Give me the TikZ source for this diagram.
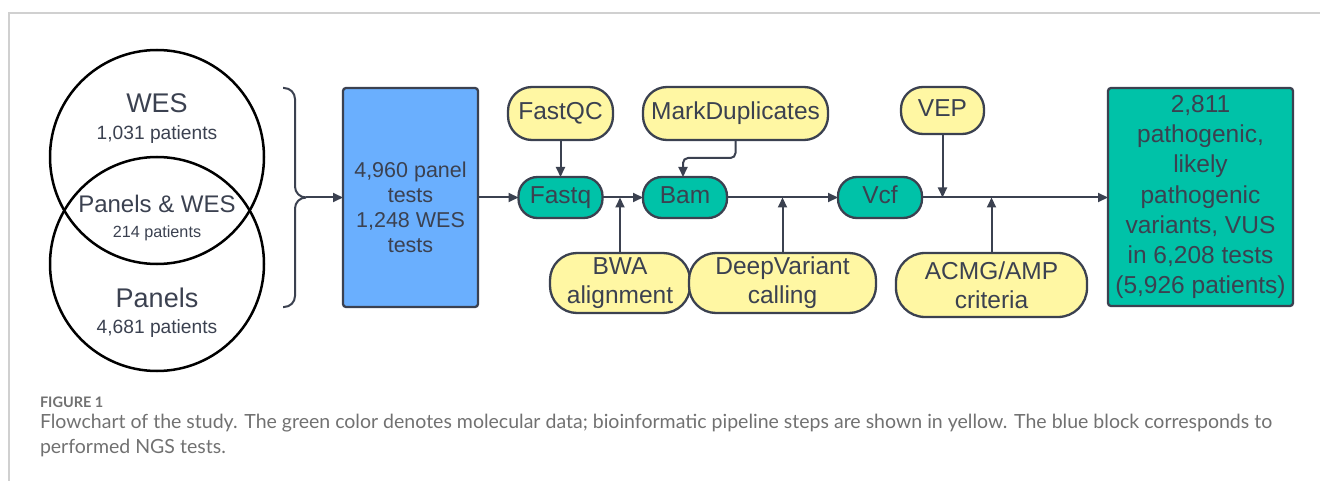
\documentclass[tikz,border=0pt]{standalone}
\usepackage{fontspec}
\setmainfont{Liberation Sans}
\newfontfamily\capfont{Lato}
\usepackage{graphicx}
\usetikzlibrary{arrows.meta}
\definecolor{ink}{HTML}{3B4150}
\definecolor{edgec}{HTML}{3B4150}
\definecolor{yelfill}{HTML}{FFF7A3}
\definecolor{tealfill}{HTML}{00C2A8}
\definecolor{bluefill}{HTML}{6AAFFE}
\definecolor{framegray}{HTML}{D0D0D0}
\definecolor{capgray}{HTML}{717171}
\newcommand{\fsz}[2]{\fontsize{#1}{#2}\selectfont}
\begin{document}
\begin{tikzpicture}[x=1pt,y=-1pt,
  every node/.style={text=ink, inner sep=0pt, outer sep=0pt},
  pill/.style={draw=edgec, line width=2.3pt, rounded corners=#1, align=center, font=\fsz{24.5}{29}},
  oneline/.style={text height=17.5pt, text depth=5pt},
  datapill/.style={pill=19pt, fill=tealfill, minimum width=84pt, minimum height=41pt, oneline},
  toolpill/.style={pill=#1, fill=yelfill},
  conn/.style={draw=edgec, line width=2pt},
  arr/.style={conn, -{Triangle[length=10pt,width=9pt]}},
  venn/.style={circle, draw=black, line width=2.5pt, minimum size=214pt},
  bigbox/.style={draw=edgec, line width=2.3pt, rounded corners=3pt}
]
\useasboundingbox (0,0) rectangle (1320,481);
\draw[framegray, line width=1.2pt] (1320,13) -- (9,13) -- (9,481);

% Venn diagram
\node[venn] (wes) at (157,157) {};
\node[venn] (pan) at (157,264) {};
\node[anchor=base, font=\fsz{27}{30}] (wesT) at (157,113) {WES};
\node[anchor=base, font=\fsz{19.2}{22}] (wesN) at (157,140) {1,031 patients};
\node[anchor=base, font=\fsz{24}{27}] (bothT) at (157,213) {Panels \& WES};
\node[anchor=base, font=\fsz{16.2}{19}] (bothN) at (157,237) {214 patients};
\node[anchor=base, font=\fsz{27}{30}] (panT) at (157,307) {Panels};
\node[anchor=base, font=\fsz{19.2}{22}] (panN) at (157,333) {4,681 patients};

% Brace
\coordinate (tip) at (306,197.5);
\draw[conn, rounded corners=11pt] (283,88) -- (295,88) -- (295,197.5) -- (tip);
\draw[conn, rounded corners=11pt] (283,307) -- (295,307) -- (295,197.5) -- (tip);

% NGS tests block
\node[bigbox, fill=bluefill, minimum width=135pt, minimum height=219pt] (ngs) at (410.5,197.5) {};
\node[font=\fsz{21.5}{25}, align=center] (ngsT) at (410.5,207) {4,960 panel\\tests\\1,248 WES\\tests};

% Pipeline
\node[datapill] (fastq) at (560.5,197.5) {Fastq};
\node[datapill] (bam) at (685,197.5) {Bam};
\node[datapill] (vcf) at (880,197.5) {Vcf};
\node[toolpill=24pt, minimum width=105pt, minimum height=53pt, oneline] (fastqc) at (560.5,113.5) {FastQC};
\node[toolpill=24pt, minimum width=185pt, minimum height=53pt, oneline] (md) at (735.5,113.5) {MarkDuplicates};
\node[toolpill=22pt, minimum width=83pt, minimum height=47pt, oneline] (vep) at (942.5,110.5) {VEP};
\node[toolpill=27pt, minimum width=140pt, minimum height=60pt] (bwa) at (620,283) {BWA\\alignment};
\node[toolpill=27pt, minimum width=187pt, minimum height=60pt] (dv) at (782.5,283) {DeepVariant\\calling};
\node[toolpill=29pt, minimum width=191pt, minimum height=64pt] (acmg) at (991.5,285) {ACMG/AMP\\criteria};
\node[bigbox, fill=tealfill, minimum width=185pt, minimum height=218pt, align=center, font=\fsz{24.5}{30.3}] (res) at (1200.5,197) {2,811\\pathogenic,\\likely\\pathogenic\\variants, VUS\\in 6,208 tests\\(5,926 patients)};

% Connectors
\draw[arr] (tip) -- (tip -| ngs.west);
\draw[arr] (ngs.east) -- (fastq.west);
\draw[arr] (fastqc.south) -- (fastq.north);
\draw[arr] (fastq.east) -- (bam.west);
\draw[arr] (bwa.north) -- (bwa.north |- fastq.east);
\draw[arr, rounded corners=5pt] (md.south) -- (md.south |- 0,158) -| ([xshift=-2pt]bam.north);
\draw[arr] (bam.east) -- (vcf.west);
\draw[arr] (dv.north) -- (dv.north |- bam.east);
\draw[arr] (vcf.east) -- (res.west |- vcf.east);
\draw[arr] (vep.south) -- (vep.south |- vcf.east);
\draw[arr] (acmg.north) -- (acmg.north |- vcf.east);

% Caption
\node[anchor=base west, text=capgray, font=\capfont\bfseries\fsz{14.5}{16}] (fig) at (40,407) {FIGURE 1};
\node[anchor=base west, text=capgray, font=\capfont\fsz{14}{18}] (cap) at (40,428.5) {\resizebox{1232pt}{!}{\begin{tabular}[t]{@{}l@{}}Flowchart of the study. The green color denotes molecular data; bioinformatic pipeline steps are shown in yellow. The blue block corresponds to\\performed NGS tests.\end{tabular}}};
\end{tikzpicture}
\end{document}
